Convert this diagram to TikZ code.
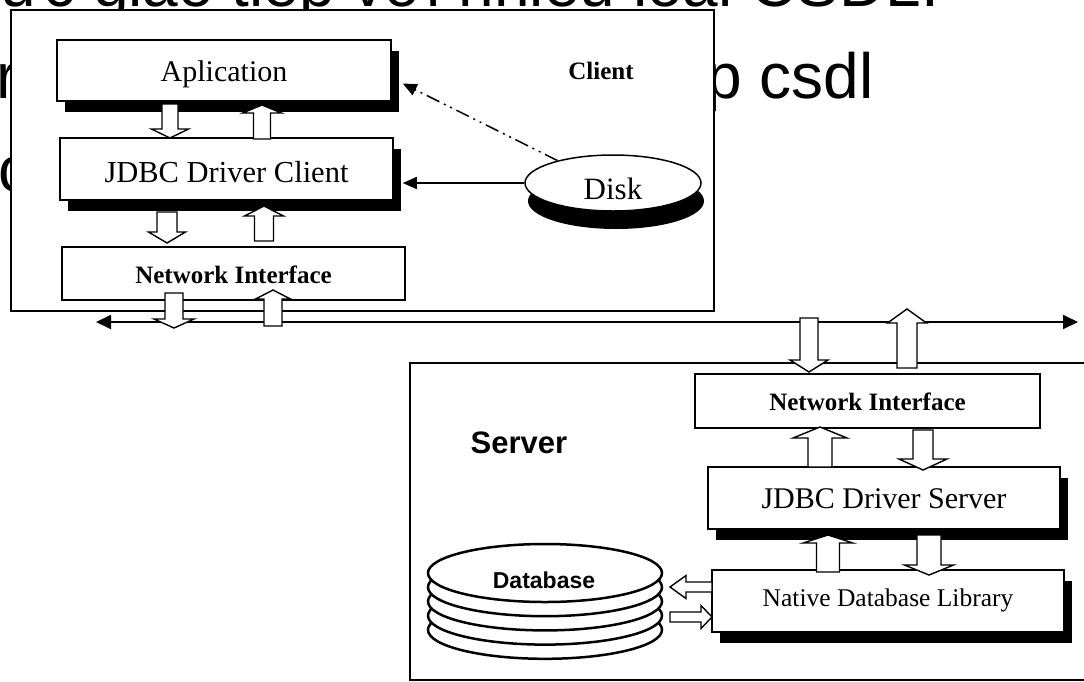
\documentclass[tikz,border=0pt]{standalone}
\usepackage{fontspec}
\setmainfont{Liberation Serif}
\newfontfamily\arialf{Liberation Sans}
\usetikzlibrary{arrows.meta,shapes.geometric,shadows}

\tikzset{
  box/.style={draw, fill=white, line width=1.5pt, inner sep=0pt, text depth=0pt},
  shbox/.style={box, drop shadow={shadow xshift=8pt, shadow yshift=-11pt, opacity=1, fill=black}},
  frame/.style={draw, fill=white, line width=1.6pt, inner sep=0pt},
  blk/.style={draw, fill=white, line width=1.4pt, line join=miter},
  bgtext/.style={font=\arialf\fontsize{64}{70}\selectfont, inner sep=0pt, anchor=base west},
  tnr/.style={font=\fontsize{#1}{#1}\selectfont},
  tnrb/.style={font=\bfseries\fontsize{#1}{#1}\selectfont},
  tip/.style={-{Triangle[length=14pt,width=12pt]}},
  dbdisk/.style={draw, fill=white, line width=2.5pt},
}
\newcommand{\blkV}[6]{\draw[blk] (#1-#5,#2) -- (#1-#5,#3) -- (#1-#6,#3) -- (#1,#4) -- (#1+#6,#3) -- (#1+#5,#3) -- (#1+#5,#2) -- cycle;}
\newcommand{\blkH}[6]{\draw[blk] (#2,#1-#5) -- (#3,#1-#5) -- (#3,#1-#6) -- (#4,#1) -- (#3,#1+#6) -- (#3,#1+#5) -- (#2,#1+#5) -- cycle;}

\begin{document}
\begin{tikzpicture}[x=1pt,y=-1pt]
\useasboundingbox (0,0) rectangle (1084,681);
\fill[white] (0,0) rectangle (1084,681);

% background slide text (mostly hidden)
\node[bgtext] (t1) at (-53,6) {thức giao tiếp với nhiều loại CSDL.};
\node[bgtext] (t2a) at (-4,98) {r};
\node[bgtext, anchor=base east] (t2b) at (874,98) {p csdl};
\node[bgtext] (t3) at (-2,191) {c};

% client
\node[frame, minimum width=703pt, minimum height=301pt] (client) at (362.5,160.5) {};
\node[tnrb=25] (clientlbl) at (601,71) {Client};
\node[shbox, tnr=30, text height=22.8pt, minimum width=334pt, minimum height=61pt] (app) at (224,70.5) {Aplication};
\node[shbox, tnr=30.5, text height=26.1pt, minimum width=333pt, minimum height=62pt] (jdbcc) at (226.5,169) {JDBC Driver Client};
\node[box, tnrb=25, text height=19.9pt, minimum width=343pt, minimum height=53pt] (netc) at (233.5,273.5) {Network Interface};
\node[ellipse, draw, fill=white, line width=1.5pt, inner sep=0pt, minimum width=176pt, minimum height=56pt,
      tnr=31, text height=33.4pt, text depth=0pt,
      drop shadow={shadow xshift=3pt, shadow yshift=-18pt, opacity=1, fill=black}] (disk) at (613,183) {Disk};

\draw[line width=1.5pt, tip] (disk.west) -- ([xshift=9pt]jdbcc.east |- disk.west);
\draw[line width=1.5pt, dash pattern=on 14pt off 5pt on 2pt off 5pt on 2pt off 5pt, tip]
  (disk.158) -- ([xshift=11pt,yshift=-13pt]app.east);

\blkV{170}{104}{129}{138}{8}{18.5}
\blkV{262}{139}{113}{105}{8.5}{19.5}
\blkV{167}{212}{232}{243}{10}{18.5}
\blkV{264}{241}{216}{206}{9.5}{19.5}

% network
\coordinate (netL) at (96,322);
\coordinate (netR) at (1078,322);
\draw[line width=1.8pt, {Triangle[length=15pt,width=14pt]}-{Triangle[length=15pt,width=14pt]}] (netL) -- (netR);
\blkV{174}{293}{319}{328}{9}{20}
\blkV{273}{326}{299}{290}{9}{17.5}

% server
\node[frame, minimum width=685pt, minimum height=317pt] (server) at (752.5,521.5) {};
\node[font=\arialf\bfseries\fontsize{31}{31}\selectfont] (serverlbl) at (519,443) {Server};
\node[box, tnrb=25, text height=19.9pt, minimum width=345pt, minimum height=54pt] (nets) at (867.5,401) {Network Interface};
\node[shbox, tnr=30, text height=21.8pt, minimum width=352pt, minimum height=62pt] (jdbcs) at (884,498) {JDBC Driver Server};
\node[shbox, tnr=25.5, text height=11.8pt, minimum width=352pt, minimum height=62pt] (native) at (888,601) {Native Database Library};

\foreach \k in {4,3,2,1} {
  \draw[dbdisk] (545,573+14.2*\k) ellipse [x radius=117pt, y radius=29pt];
}
\node[ellipse, dbdisk, inner sep=0pt, minimum width=234pt, minimum height=58pt] (db) at (545,573) {};
\node[font=\arialf\bfseries\fontsize{23}{23}\selectfont] (dblbl) at (544,580) {Database};

\blkV{809}{318}{360}{372}{9}{19}
\blkV{907}{368}{323}{309}{10}{19.5}
\blkV{820}{467}{438}{427}{12}{27}
\blkV{923}{430}{459}{470}{10}{24}
\blkV{828}{572}{543}{535}{11.5}{25}
\blkV{929}{535}{565}{575}{12}{24.5}
\blkH{587}{712}{686}{670}{5}{11.5}
\blkH{617}{670}{701}{712}{5}{11.5}
\end{tikzpicture}
\end{document}
